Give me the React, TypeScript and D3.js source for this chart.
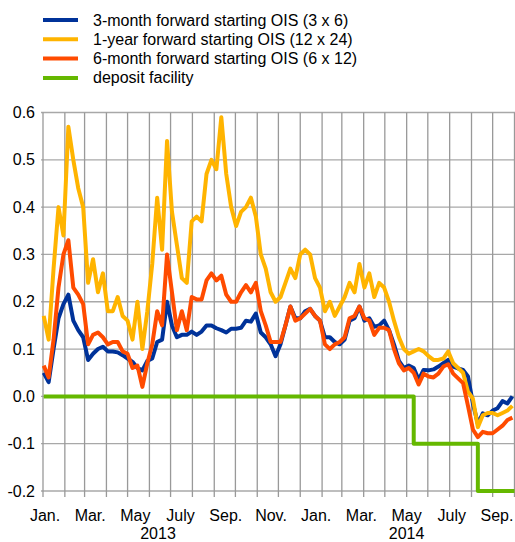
import React from 'react';
import * as d3 from 'd3';

// weekly observations, first one on 2 Jan 2013
const firstObs = '2013-01-02';

const ois3x6 = [
  0.05, 0.03, 0.1, 0.165, 0.195, 0.215, 0.16, 0.14, 0.125, 0.077,
  0.09, 0.1, 0.105, 0.095, 0.095, 0.093, 0.087, 0.08, 0.073, 0.06,
  0.055, 0.075, 0.08, 0.115, 0.12, 0.2, 0.15, 0.125, 0.13, 0.13,
  0.137, 0.13, 0.137, 0.15, 0.15, 0.144, 0.14, 0.135, 0.143, 0.143,
  0.145, 0.16, 0.158, 0.175, 0.135, 0.125, 0.11, 0.085, 0.11, 0.15,
  0.19, 0.165, 0.165, 0.18, 0.185, 0.17, 0.16, 0.125, 0.125, 0.115,
  0.11, 0.12, 0.16, 0.165, 0.19, 0.16, 0.165, 0.147, 0.15, 0.16,
  0.14, 0.11, 0.075, 0.06, 0.065, 0.06, 0.035, 0.056, 0.055, 0.057,
  0.063, 0.07, 0.077, 0.063, 0.059, 0.056, 0.042, -0.015, -0.058, -0.036,
  -0.04, -0.03, -0.025, -0.01, -0.015, 0.0,
];

const ois12x24 = [
  0.17, 0.12, 0.27, 0.4, 0.34, 0.57, 0.5, 0.44, 0.4, 0.24,
  0.29, 0.22, 0.26, 0.18, 0.18, 0.21, 0.17, 0.16, 0.12, 0.2,
  0.1, 0.18, 0.28, 0.42, 0.31, 0.54, 0.39, 0.32, 0.25, 0.24,
  0.37, 0.38, 0.37, 0.47, 0.5, 0.48, 0.59, 0.47, 0.4, 0.36,
  0.39, 0.4, 0.42, 0.38, 0.3, 0.27, 0.22, 0.2, 0.21, 0.24,
  0.27, 0.25, 0.3, 0.31, 0.3, 0.25, 0.23, 0.18, 0.2, 0.17,
  0.19, 0.21, 0.24, 0.22, 0.28, 0.23, 0.26, 0.21, 0.24, 0.23,
  0.2, 0.16, 0.125, 0.1, 0.09, 0.095, 0.1, 0.095, 0.085, 0.077,
  0.077, 0.08, 0.095, 0.07, 0.06, 0.05, 0.01, -0.005, -0.065, -0.04,
  -0.035, -0.035, -0.04, -0.035, -0.03, -0.02,
];

const ois6x12 = [
  0.065, 0.04, 0.12, 0.23, 0.3, 0.33, 0.23, 0.215, 0.195, 0.11,
  0.13, 0.135, 0.125, 0.11, 0.115, 0.115, 0.095, 0.09, 0.06, 0.065,
  0.02, 0.07, 0.11, 0.18, 0.15, 0.3, 0.22, 0.14, 0.18, 0.14,
  0.21, 0.205, 0.205, 0.245, 0.26, 0.245, 0.255, 0.215, 0.2, 0.2,
  0.22, 0.235, 0.22, 0.24, 0.18, 0.15, 0.115, 0.115, 0.115, 0.15,
  0.19, 0.16, 0.165, 0.175, 0.185, 0.17, 0.16, 0.11, 0.1, 0.11,
  0.115, 0.125, 0.165, 0.17, 0.19, 0.165, 0.16, 0.13, 0.145, 0.145,
  0.14, 0.1, 0.07, 0.055, 0.06, 0.05, 0.025, 0.048, 0.042, 0.04,
  0.048, 0.063, 0.068, 0.048, 0.038, 0.028, -0.02, -0.07, -0.086, -0.075,
  -0.078, -0.078, -0.07, -0.062, -0.05, -0.045,
];

const depositDates = ['2013-01-02', '2014-06-11', '2014-09-10', '2014-11-01'];
const depositRates = [0, -0.1, -0.2, -0.2];

const legendLabels = [
  '3-month forward starting OIS (3 x 6)',
  '1-year forward starting OIS (12 x 24)',
  '6-month forward starting OIS (6 x 12)',
  'deposit facility',
];
const colors = ['#003299', '#ffb400', '#ff4b00', '#65b800'];

const yTicks = [-0.2, -0.1, 0.0, 0.1, 0.2, 0.3, 0.4, 0.5, 0.6];
const monthLabels = ['Jan.', 'Mar.', 'May', 'July', 'Sep.', 'Nov.', 'Jan.', 'Mar.', 'May', 'July', 'Sep.'];
const yearLabels = ['2013', '2014'];
const monthsPerYear = [6, 5];

const W = 515;
const H = 542;
const margin = { top: 112.5, right: 0.5, bottom: 51, left: 43 };
const font = '"Liberation Sans", Arial, sans-serif';

export default function App() {
  const parse = d3.timeParse('%Y-%m-%d');
  const start = parse(firstObs) as Date;
  const dates = ois3x6.map((_, i) => d3.timeDay.offset(start, 7 * i));

  const x = d3
    .scaleTime()
    .domain([new Date(2013, 0, 1), new Date(2014, 10, 1)])
    .range([margin.left, W - margin.right]);

  const y = d3
    .scaleLinear()
    .domain([-0.2, 0.6])
    .range([H - margin.bottom, margin.top]);

  // month labels sit on their own slightly wider spacing
  const xLab = d3
    .scalePoint<number>()
    .domain(d3.range(monthLabels.length))
    .range([margin.left + 2, W - 18]);

  const line = d3
    .line<number>()
    .x((_, i) => x(dates[i]))
    .y(d => y(d));

  const depLine = d3
    .line<number>()
    .x((_, i) => x(parse(depositDates[i]) as Date))
    .y(d => y(d))
    .curve(d3.curveStepAfter);

  const months = d3.timeMonth.range(x.domain()[0], d3.timeDay.offset(x.domain()[1], 1));
  const y0 = y(-0.2);
  const fmt = (v: number) => v.toFixed(1);

  let acc = 0;
  const yearPos = monthsPerYear.map(n => {
    const idx = d3.range(acc, acc + n);
    acc += n;
    return d3.mean(idx, i => xLab(i) as number) as number;
  });

  return (
    <svg width={W} height={H} style={{ position: 'absolute', left: 0, top: 0, background: '#fff' }} fontFamily={font}>
      {/* legend */}
      <g className="legend">
        {legendLabels.map((t, i) => (
          <g key={t} transform={`translate(43,${20 + i * 19.3})`}>
            <line x1={0} x2={35} y1={0} y2={0} stroke={colors[i]} strokeWidth={4} />
            <text x={50} y={5.5} fontSize={16} fill="#000">{t}</text>
          </g>
        ))}
      </g>

      {/* grid */}
      <g className="grid">
        {yTicks.map(v => (
          <line key={v} x1={margin.left - 2} x2={W} y1={y(v)} y2={y(v)} stroke="#a8a8a8" strokeWidth={1.3} />
        ))}
        {months.map(m => (
          <line key={+m} x1={x(m)} x2={x(m)} y1={margin.top} y2={y0 + 6} stroke="#999" strokeWidth={1.3} />
        ))}
      </g>

      {/* y labels */}
      <g className="y axis">
        {yTicks.map(v => (
          <text key={v} x={35} y={y(v)} dy="0.35em" textAnchor="end" fontSize={16} fill="#000">
            {fmt(v)}
          </text>
        ))}
      </g>

      {/* x labels */}
      <g className="x axis">
        {monthLabels.map((t, i) => (
          <text key={i} x={xLab(i)} y={521} textAnchor="middle" fontSize={16} fill="#000">{t}</text>
        ))}
        {yearLabels.map((t, i) => (
          <text key={t} x={yearPos[i]} y={539} textAnchor="middle" fontSize={16} fill="#000">{t}</text>
        ))}
      </g>

      {/* series */}
      <g className="lines" fill="none" strokeLinejoin="round">
        <path d={line(ois3x6) || ''} stroke={colors[0]} strokeWidth={4} />
        <path d={line(ois12x24) || ''} stroke={colors[1]} strokeWidth={4} />
        <path d={line(ois6x12) || ''} stroke={colors[2]} strokeWidth={4} />
        <path d={depLine(depositRates) || ''} stroke={colors[3]} strokeWidth={4} />
      </g>
    </svg>
  );
}
